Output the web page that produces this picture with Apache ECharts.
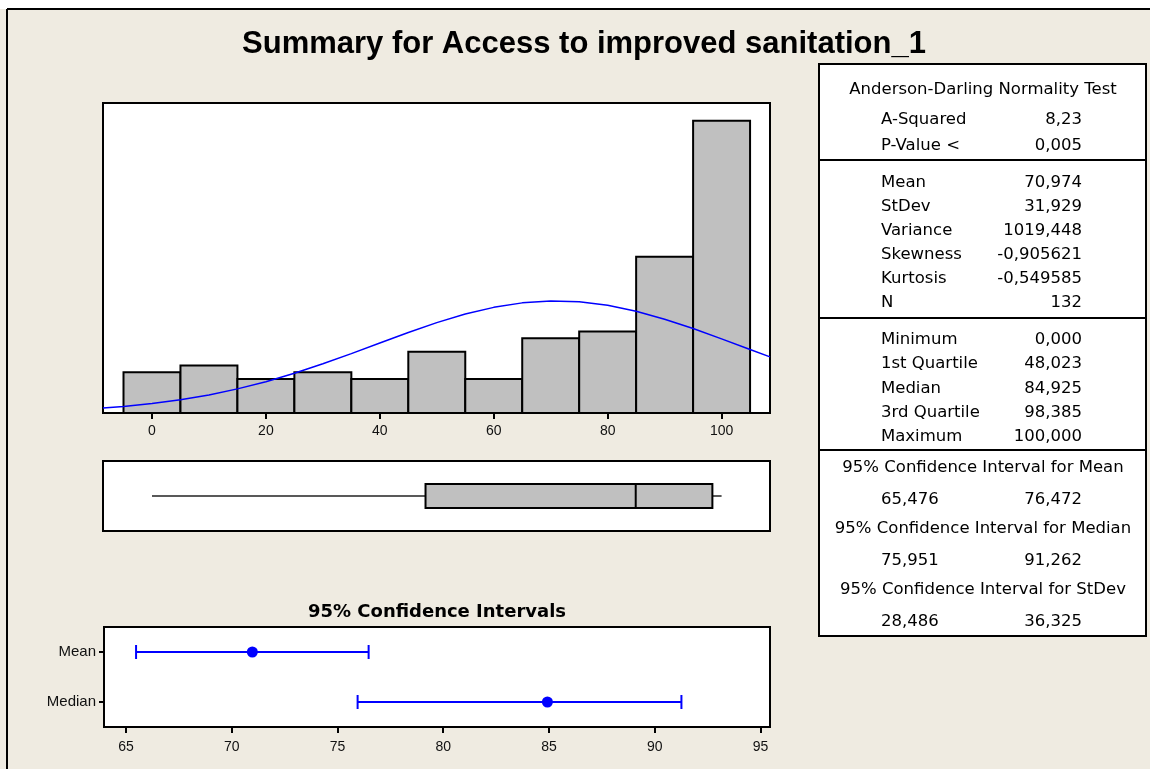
<!DOCTYPE html>
<html>
<head>
<meta charset="UTF-8">
<title>summary</title>
<script src="https://cdn.jsdelivr.net/npm/echarts@6/dist/echarts.min.js"></script>
<style>
*{margin:0;padding:0}
html,body{width:100%;height:100%;background:#fff}
#main{width:1150px;height:769px}
</style>
</head>
<body>
<div id="main"></div>
<script type="text/javascript">
// histogram: bin centres (width 10) and counts
var binCenters = [0, 10, 20, 30, 40, 50, 60, 70, 80, 90, 100];
var binCounts = [6, 7, 5, 6, 5, 9, 5, 11, 12, 23, 43];
var binWidth = 10;
var histTicks = [0, 20, 40, 60, 80, 100];

// fitted normal curve
var curveX = [-8.6, -5, 0, 5, 10, 15, 20, 25, 30, 35, 40, 45, 50, 55, 60, 65, 70, 75, 80, 85, 90, 95, 100, 105, 108.5];
var curveY = [0.74, 0.97, 1.39, 1.95, 2.66, 3.55, 4.61, 5.85, 7.24, 8.74, 10.30, 11.84, 13.29, 14.55, 15.54, 16.20, 16.48, 16.36, 15.85, 14.97, 13.80, 12.43, 10.91, 9.34, 8.26];

// boxplot: min, Q1, median, Q3, max
var boxStats = [0, 48.023, 84.925, 98.385, 100];

// 95% confidence intervals
var ciNames = ['Mean', 'Median'];
var ciLow = [65.476, 75.951];
var ciMid = [70.974, 84.925];
var ciHigh = [76.472, 91.262];
var ciTicks = [65, 70, 75, 80, 85, 90, 95];

// stats table
var adTitle = 'Anderson-Darling Normality Test';
var adLabels = ['A-Squared', 'P-Value <'];
var adValues = ['8,23', '0,005'];
var momLabels = ['Mean', 'StDev', 'Variance', 'Skewness', 'Kurtosis', 'N'];
var momValues = ['70,974', '31,929', '1019,448', '-0,905621', '-0,549585', '132'];
var quantLabels = ['Minimum', '1st Quartile', 'Median', '3rd Quartile', 'Maximum'];
var quantValues = ['0,000', '48,023', '84,925', '98,385', '100,000'];
var ciTitles = ['95% Confidence Interval for Mean', '95% Confidence Interval for Median', '95% Confidence Interval for StDev'];
var ciTabLow = ['65,476', '75,951', '28,486'];
var ciTabHigh = ['76,472', '91,262', '36,325'];

var myChart = echarts.init(document.getElementById('main'));

var tableFont = '16.5px "DejaVu Sans"';
var g = [];
function txt(s, x, y, align, font) {
    g.push({
        type: 'text', x: x, y: y, silent: true, z: 10,
        style: {
            text: s, font: font || tableFont, fill: '#000',
            textAlign: align, align: align,
            textVerticalAlign: 'middle', verticalAlign: 'middle'
        }
    });
}
function hline(x1, x2, y) {
    g.push({type: 'line', z: 10, silent: true, shape: {x1: x1, y1: y, x2: x2, y2: y}, style: {stroke: '#000', lineWidth: 2}});
}

// outer frame
g.push({type: 'rect', silent: true, shape: {x: 0, y: 0, width: 1150, height: 9}, style: {fill: '#fff'}});
g.push({type: 'line', silent: true, shape: {x1: 7, y1: 9, x2: 1150, y2: 9}, style: {stroke: '#000', lineWidth: 2}});
g.push({type: 'line', silent: true, shape: {x1: 7, y1: 9, x2: 7, y2: 769}, style: {stroke: '#000', lineWidth: 2}});

// titles
txt('Summary for Access to improved sanitation_1', 584, 44, 'center', 'bold 31px "Liberation Sans"');
txt('95% Confidence Intervals', 437, 612, 'center', 'bold 18px "DejaVu Sans"');

// table
var tL = 819, tR = 1146, labX = 881, valX = 1082, tMid = 983;
g.push({type: 'rect', z: 9, silent: true, shape: {x: tL, y: 64, width: tR - tL, height: 572}, style: {fill: '#fff', stroke: '#000', lineWidth: 2}});
hline(tL, tR, 160);
hline(tL, tR, 318);
hline(tL, tR, 450);

txt(adTitle, tMid, 90, 'center');
adLabels.forEach(function (s, i) {
    txt(s, labX, 120 + i * 26, 'left');
    txt(adValues[i], valX, 120 + i * 26, 'right');
});
momLabels.forEach(function (s, i) {
    txt(s, labX, 183 + i * 24, 'left');
    txt(momValues[i], valX, 183 + i * 24, 'right');
});
quantLabels.forEach(function (s, i) {
    txt(s, labX, 340 + i * 24.2, 'left');
    txt(quantValues[i], valX, 340 + i * 24.2, 'right');
});
ciTitles.forEach(function (s, i) {
    var y = 468 + i * 61;
    txt(s, tMid, y, 'center');
    txt(ciTabLow[i], labX, y + 32, 'left');
    txt(ciTabHigh[i], valX, y + 32, 'right');
});

var frame = {show: true, backgroundColor: '#fff', borderColor: '#000', borderWidth: 2};
var axisBlack = {show: true, lineStyle: {color: '#000', width: 2}};
var labelStyle = {fontSize: 14, color: '#111', fontFamily: 'Liberation Sans'};

var option = {
    backgroundColor: '#EFEBE1',
    animation: false,
    graphic: {elements: g},
    grid: [
        Object.assign({left: 103, top: 103, width: 667, height: 310}, frame),
        Object.assign({left: 103, top: 461, width: 667, height: 70}, frame),
        Object.assign({left: 104, top: 627, width: 666, height: 100}, frame)
    ],
    xAxis: [
        {
            type: 'value', gridIndex: 0, min: -8.6, max: 108.5,
            axisLine: axisBlack,
            axisTick: {show: true, customValues: histTicks, length: 6, lineStyle: {color: '#000', width: 2}},
            axisLabel: Object.assign({customValues: histTicks, margin: 11}, labelStyle),
            splitLine: {show: false}
        },
        {type: 'value', gridIndex: 1, min: -8.6, max: 108.5, show: false},
        {
            type: 'value', gridIndex: 2, min: 63.96, max: 95.45,
            axisLine: axisBlack,
            axisTick: {show: true, customValues: ciTicks, length: 6, lineStyle: {color: '#000', width: 2}},
            axisLabel: Object.assign({customValues: ciTicks, margin: 13}, labelStyle),
            splitLine: {show: false}
        }
    ],
    yAxis: [
        {type: 'value', gridIndex: 0, min: 0, max: 45.6, show: false},
        {type: 'value', gridIndex: 1, min: 0, max: 1, show: false},
        {
            type: 'category', gridIndex: 2, data: ciNames, inverse: true,
            axisLine: axisBlack,
            axisTick: {show: true, alignWithLabel: true, length: 5, lineStyle: {color: '#000', width: 2}},
            axisLabel: Object.assign({}, labelStyle, {margin: 8, fontSize: 15}),
            splitLine: {show: false}
        }
    ],
    series: [
        {
            name: 'hist', type: 'custom', xAxisIndex: 0, yAxisIndex: 0,
            data: binCenters.map(function (c, i) { return [c, binCounts[i]]; }),
            encode: {x: 0, y: 1},
            renderItem: function (params, api) {
                var c = api.value(0), n = api.value(1);
                var p0 = api.coord([c - binWidth / 2, n]);
                var p1 = api.coord([c + binWidth / 2, 0]);
                return {
                    type: 'rect',
                    shape: {x: p0[0], y: p0[1], width: p1[0] - p0[0], height: p1[1] - p0[1]},
                    style: {fill: '#C0C0C0', stroke: '#000', lineWidth: 2}
                };
            }
        },
        {
            name: 'normal', type: 'line', xAxisIndex: 0, yAxisIndex: 0,
            data: curveX.map(function (x, i) { return [x, curveY[i]]; }),
            symbol: 'none', smooth: false, clip: true,
            lineStyle: {color: '#0000FF', width: 1.5}
        },
        {
            name: 'box', type: 'custom', xAxisIndex: 1, yAxisIndex: 1,
            data: [boxStats],
            encode: {x: [0, 1, 2, 3, 4]},
            renderItem: function (params, api) {
                var xs = [0, 1, 2, 3, 4].map(function (k) { return api.coord([api.value(k), 0.5])[0]; });
                var y = api.coord([0, 0.5])[1];
                var h = 12;
                return {
                    type: 'group',
                    children: [
                        {type: 'line', shape: {x1: xs[0], y1: y, x2: xs[1], y2: y}, style: {stroke: '#222', lineWidth: 1.5}},
                        {type: 'line', shape: {x1: xs[3], y1: y, x2: xs[4], y2: y}, style: {stroke: '#222', lineWidth: 1.5}},
                        {type: 'rect', shape: {x: xs[1], y: y - h, width: xs[3] - xs[1], height: 2 * h}, style: {fill: '#C0C0C0', stroke: '#000', lineWidth: 2}},
                        {type: 'line', shape: {x1: xs[2], y1: y - h, x2: xs[2], y2: y + h}, style: {stroke: '#000', lineWidth: 2}}
                    ]
                };
            }
        },
        {
            name: 'ci', type: 'custom', xAxisIndex: 2, yAxisIndex: 2,
            data: ciNames.map(function (n, i) { return [ciLow[i], ciMid[i], ciHigh[i], i]; }),
            encode: {x: [0, 1, 2], y: 3},
            renderItem: function (params, api) {
                var pl = api.coord([api.value(0), api.value(3)]);
                var pm = api.coord([api.value(1), api.value(3)]);
                var ph = api.coord([api.value(2), api.value(3)]);
                var y = pl[1], c = 7;
                var st = {stroke: '#0000FF', lineWidth: 2};
                return {
                    type: 'group',
                    children: [
                        {type: 'line', shape: {x1: pl[0], y1: y, x2: ph[0], y2: y}, style: st},
                        {type: 'line', shape: {x1: pl[0], y1: y - c, x2: pl[0], y2: y + c}, style: st},
                        {type: 'line', shape: {x1: ph[0], y1: y - c, x2: ph[0], y2: y + c}, style: st},
                        {type: 'circle', shape: {cx: pm[0], cy: y, r: 5.5}, style: {fill: '#0000FF'}}
                    ]
                };
            }
        }
    ]
};

myChart.setOption(option);
</script>
</body>
</html>
